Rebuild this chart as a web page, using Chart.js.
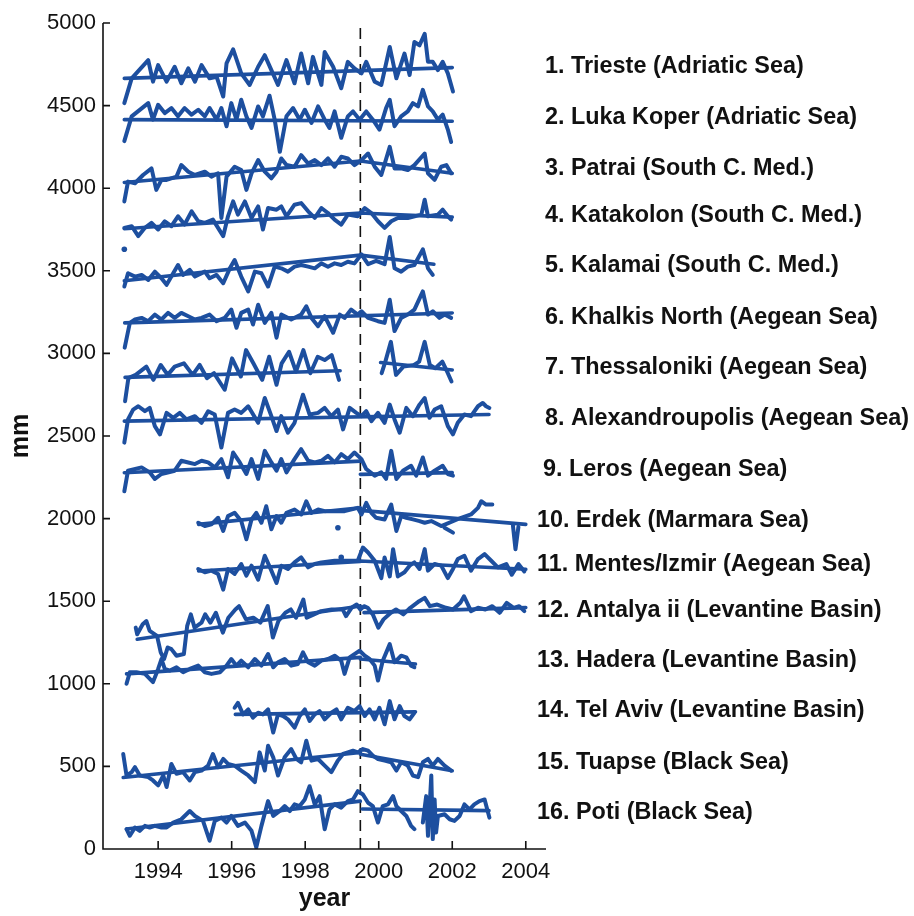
<!DOCTYPE html>
<html>
<head>
<meta charset="utf-8">
<script src="https://cdn.jsdelivr.net/npm/chart.js@4.4.1/dist/chart.umd.min.js"></script>
<style>
  html, body { margin: 0; padding: 0; background: #fff; }
  #wrap { width: 914px; height: 916px; }
</style>
</head>
<body>
<div id="wrap"><canvas id="seaLevel" width="914" height="916"></canvas></div>
<script>
// Monthly mean sea level per station, stacked with offsets (mm). Pairs are [year, mm],
// a null value breaks the line.
const trieste = [[1993.08,4515],[1993.28,4665],[1993.73,4775],[1993.86,4645],[1994.00,4745],[1994.23,4645],[1994.45,4735],[1994.63,4635],[1994.82,4725],[1995.00,4645],[1995.18,4745],[1995.40,4665],[1995.59,4675],[1995.77,4555],[1995.86,4755],[1996.04,4840],[1996.26,4695],[1996.49,4625],[1996.72,4735],[1996.90,4805],[1997.08,4715],[1997.26,4625],[1997.49,4775],[1997.71,4635],[1997.89,4815],[1998.08,4635],[1998.21,4795],[1998.44,4625],[1998.53,4825],[1998.76,4735],[1998.98,4605],[1999.16,4765],[1999.34,4725],[1999.53,4695],[1999.66,4765],[1999.89,4645],[2000.07,4625],[2000.30,4855],[2000.48,4665],[2000.70,4815],[2000.84,4685],[2000.97,4885],[2001.11,4865],[2001.25,4935],[2001.34,4765],[2001.47,4765],[2001.61,4715],[2001.74,4765],[2001.88,4695],[2002.02,4585]];
const lukaKoper = [[1993.08,4285],[1993.28,4435],[1993.73,4515],[1993.86,4415],[1994.00,4505],[1994.18,4455],[1994.36,4485],[1994.54,4435],[1994.72,4485],[1994.91,4445],[1995.09,4475],[1995.27,4435],[1995.40,4485],[1995.59,4415],[1995.72,4485],[1995.86,4375],[1995.99,4515],[1996.13,4415],[1996.26,4535],[1996.40,4435],[1996.54,4365],[1996.72,4495],[1996.85,4435],[1997.03,4560],[1997.17,4415],[1997.31,4220],[1997.49,4435],[1997.67,4485],[1997.85,4415],[1997.99,4475],[1998.17,4395],[1998.35,4495],[1998.53,4415],[1998.66,4365],[1998.80,4465],[1998.98,4305],[1999.16,4435],[1999.30,4465],[1999.48,4415],[1999.66,4465],[1999.84,4415],[2000.02,4355],[2000.20,4485],[2000.30,4535],[2000.43,4375],[2000.61,4435],[2000.79,4465],[2000.93,4515],[2001.07,4495],[2001.20,4595],[2001.34,4495],[2001.47,4465],[2001.61,4415],[2001.74,4445],[2001.88,4355],[2001.97,4280]];
const patrai = [[1993.08,3920],[1993.18,4040],[1993.37,4030],[1993.59,4080],[1993.82,4120],[1993.95,3990],[1994.09,4050],[1994.23,4050],[1994.50,4070],[1994.63,4140],[1994.82,4100],[1995.00,4080],[1995.27,4100],[1995.45,4070],[1995.63,4090],[1995.72,3820],[1995.86,4070],[1996.08,4130],[1996.26,4110],[1996.40,3990],[1996.54,4090],[1996.72,4170],[1996.90,4100],[1997.08,4060],[1997.22,4100],[1997.35,4180],[1997.49,4140],[1997.71,4130],[1997.89,4200],[1998.08,4150],[1998.26,4170],[1998.44,4140],[1998.62,4180],[1998.80,4130],[1998.98,4190],[1999.16,4180],[1999.34,4140],[1999.53,4170],[1999.71,4210],[1999.89,4130],[2000.07,4080],[2000.30,4250],[2000.43,4120],[2000.61,4120],[2000.79,4110],[2000.97,4140],[2001.25,4210],[2001.34,4090],[2001.52,4050],[2001.70,4130],[2001.84,4140],[2001.97,4090]];
const katakolon = [[1993.08,3760],[1993.28,3770],[1993.46,3710],[1993.64,3760],[1993.82,3790],[1994.00,3750],[1994.18,3800],[1994.36,3770],[1994.54,3830],[1994.72,3780],[1994.91,3860],[1995.09,3800],[1995.27,3790],[1995.49,3810],[1995.77,3710],[1995.90,3830],[1996.04,3920],[1996.17,3840],[1996.36,3920],[1996.54,3820],[1996.72,3890],[1996.85,3750],[1996.99,3880],[1997.22,3870],[1997.35,3890],[1997.49,3830],[1997.71,3900],[1997.89,3910],[1998.08,3860],[1998.26,3820],[1998.44,3880],[1998.62,3850],[1998.80,3810],[1998.98,3780],[1999.16,3840],[1999.43,3830],[1999.62,3880],[1999.80,3850],[1999.98,3800],[2000.16,3760],[2000.34,3800],[2000.52,3820],[2000.79,3820],[2001.16,3840],[2001.25,3930],[2001.34,3830],[2001.61,3840],[2001.74,3870],[2001.88,3830],[2001.97,3810]];
const kalamai = [[1993.08,3405],[1993.18,3485],[1993.37,3465],[1993.55,3475],[1993.73,3445],[1993.91,3495],[1994.09,3455],[1994.23,3415],[1994.41,3485],[1994.54,3535],[1994.68,3475],[1994.86,3505],[1995.00,3465],[1995.27,3495],[1995.40,3455],[1995.59,3475],[1995.77,3425],[1995.95,3515],[1996.08,3565],[1996.26,3465],[1996.45,3375],[1996.63,3495],[1996.81,3485],[1996.99,3405],[1997.17,3525],[1997.35,3515],[1997.53,3495],[1997.71,3525],[1997.89,3535],[1998.08,3525],[1998.26,3515],[1998.44,3545],[1998.62,3525],[1998.80,3545],[1998.98,3535],[1999.16,3555],[1999.34,3545],[1999.53,3600],[1999.71,3540],[1999.93,3560],[2000.16,3540],[2000.30,3705],[2000.43,3515],[2000.61,3495],[2000.79,3525],[2000.97,3535],[2001.20,3630],[2001.34,3515],[2001.47,3475]];
const khalkis = [[1993.09,3035],[1993.23,3185],[1993.37,3205],[1993.55,3215],[1993.73,3195],[1993.91,3235],[1994.09,3205],[1994.27,3245],[1994.45,3215],[1994.63,3245],[1994.82,3225],[1995.00,3205],[1995.18,3215],[1995.40,3235],[1995.59,3195],[1995.81,3215],[1995.99,3265],[1996.13,3155],[1996.26,3245],[1996.45,3265],[1996.58,3175],[1996.72,3295],[1996.90,3185],[1997.08,3245],[1997.22,3095],[1997.35,3235],[1997.62,3205],[1997.89,3235],[1998.03,3285],[1998.17,3215],[1998.35,3165],[1998.53,3225],[1998.76,3125],[1998.94,3235],[1999.07,3215],[1999.25,3265],[1999.43,3235],[1999.53,3255],[1999.71,3215],[1999.98,3195],[2000.16,3185],[2000.30,3325],[2000.43,3135],[2000.61,3215],[2000.79,3235],[2000.97,3265],[2001.20,3375],[2001.34,3235],[2001.47,3255],[2001.65,3215],[2001.79,3235],[2001.97,3215]];
const thessaloniki = [[1993.10,2710],[1993.19,2850],[1993.39,2870],[1993.68,2920],[1993.87,2840],[1994.07,2930],[1994.26,2870],[1994.45,2920],[1994.70,2940],[1994.94,2870],[1995.13,2930],[1995.33,2850],[1995.52,2880],[1995.81,2780],[1996.01,2970],[1996.25,2860],[1996.39,3020],[1996.59,2940],[1996.83,2840],[1997.02,2980],[1997.22,2810],[1997.36,2940],[1997.56,3010],[1997.75,2890],[1997.95,3020],[1998.14,2880],[1998.34,2980],[1998.53,2960],[1998.72,2990],[1998.92,2840],[1999.50,null],[2000.08,2880],[2000.18,2950],[2000.33,3070],[2000.47,2870],[2000.67,2920],[2000.96,2930],[2001.10,2950],[2001.25,3070],[2001.39,2930],[2001.54,2910],[2001.73,2950],[2001.88,2880],[2001.98,2830]];
const alexandroupolis = [[1993.08,2460],[1993.18,2600],[1993.32,2660],[1993.46,2680],[1993.64,2650],[1993.77,2670],[1993.91,2560],[1994.05,2510],[1994.23,2640],[1994.41,2610],[1994.59,2640],[1994.77,2600],[1995.00,2620],[1995.18,2580],[1995.36,2650],[1995.54,2630],[1995.72,2430],[1995.90,2640],[1996.08,2660],[1996.26,2640],[1996.45,2680],[1996.72,2580],[1996.90,2730],[1997.08,2620],[1997.22,2530],[1997.35,2620],[1997.53,2520],[1997.71,2580],[1997.94,2750],[1998.12,2630],[1998.35,2640],[1998.53,2670],[1998.71,2620],[1998.89,2660],[1999.03,2540],[1999.21,2670],[1999.39,2640],[1999.53,2620],[1999.66,2650],[1999.80,2590],[1999.98,2640],[2000.16,2580],[2000.30,2690],[2000.43,2600],[2000.57,2520],[2000.75,2670],[2000.93,2620],[2001.11,2690],[2001.25,2730],[2001.38,2610],[2001.52,2660],[2001.70,2680],[2001.88,2560],[2002.02,2510],[2002.15,2580],[2002.33,2630],[2002.51,2620],[2002.70,2680],[2002.83,2700],[2002.92,2680],[2003.01,2670]];
const leros = [[1993.08,2165],[1993.18,2290],[1993.55,2310],[1993.77,2280],[1993.91,2240],[1994.09,2270],[1994.45,2290],[1994.63,2350],[1994.82,2340],[1995.00,2330],[1995.18,2350],[1995.36,2340],[1995.54,2310],[1995.72,2360],[1995.90,2250],[1996.04,2400],[1996.22,2340],[1996.40,2270],[1996.54,2360],[1996.72,2240],[1996.90,2410],[1997.08,2340],[1997.22,2290],[1997.35,2360],[1997.49,2280],[1997.71,2360],[1997.89,2420],[1998.08,2350],[1998.26,2340],[1998.44,2350],[1998.62,2380],[1998.80,2340],[1998.98,2390],[1999.16,2360],[1999.34,2400],[1999.53,2360],[1999.66,2300],[1999.89,2260],[2000.07,2280],[2000.20,2240],[2000.34,2410],[2000.48,2240],[2000.66,2290],[2000.88,2320],[2001.02,2260],[2001.20,2370],[2001.34,2260],[2001.52,2290],[2001.74,2320],[2001.88,2270],[2002.02,2260]];
const erdek = [[1995.09,1975],[1995.27,1955],[1995.45,1965],[1995.63,2005],[1995.77,1925],[1995.90,2015],[1996.08,2035],[1996.26,1985],[1996.40,1875],[1996.54,1995],[1996.67,2035],[1996.81,1975],[1996.94,2075],[1997.08,1935],[1997.22,2015],[1997.35,1975],[1997.49,2035],[1997.71,2055],[1997.89,2025],[1998.03,2105],[1998.17,2035],[1998.35,2055],[1998.53,2045],[1999.07,2045],[1999.43,2065],[1999.53,2025],[1999.66,2095],[1999.80,2035],[1999.93,2005],[2000.16,1995],[2000.34,2085],[2000.48,1925],[2000.61,2015],[2000.75,2005],[2000.93,1995],[2001.11,1985],[2001.25,1975],[2001.43,1985],[2001.70,1955],[2002.24,2005],[2002.51,2025],[2002.70,2065],[2002.79,2105],[2002.92,2085],[2003.09,2085],[2003.40,null],[2003.65,1960],[2003.72,1815],[2003.80,1950],[2003.90,null],[2001.79,1945],[2002.02,1915]];
const mentes = [[1995.09,1695],[1995.27,1675],[1995.45,1685],[1995.63,1665],[1995.77,1570],[1995.90,1695],[1996.08,1665],[1996.26,1725],[1996.40,1655],[1996.54,1715],[1996.72,1630],[1996.90,1775],[1997.08,1685],[1997.22,1610],[1997.35,1715],[1997.53,1695],[1997.71,1735],[1997.89,1765],[1998.08,1705],[1998.26,1725],[1998.44,1735],[1998.80,1745],[1999.43,1745],[1999.57,1825],[1999.71,1795],[1999.89,1745],[2000.07,1640],[2000.16,1765],[2000.30,1650],[2000.39,1815],[2000.52,1650],[2000.70,1675],[2000.84,1715],[2000.97,1735],[2001.11,1695],[2001.25,1815],[2001.34,1685],[2001.52,1725],[2001.70,1715],[2001.88,1640],[2002.02,1695],[2002.15,1755],[2002.33,1775],[2002.51,1685],[2002.70,1755],[2002.88,1785],[2003.06,1745],[2003.24,1705],[2003.47,1725],[2003.62,1660],[2003.80,1725],[2003.96,1680]];
const antalya = [[1993.39,1340],[1993.43,1300],[1993.58,1360],[1993.68,1380],[1993.77,1320],[1993.97,1290],[1994.07,1190],[1994.16,1150],[1994.26,1220],[1994.36,1210],[1994.50,1170],[1994.70,1180],[1994.79,1350],[1994.89,1420],[1994.99,1340],[1995.18,1370],[1995.28,1420],[1995.42,1370],[1995.57,1430],[1995.76,1310],[1995.91,1400],[1996.10,1450],[1996.20,1470],[1996.39,1390],[1996.59,1400],[1996.78,1370],[1996.98,1470],[1997.12,1280],[1997.27,1380],[1997.46,1430],[1997.61,1450],[1997.75,1400],[1997.95,1510],[1998.04,1400],[1998.24,1420],[1998.43,1440],[1998.72,1450],[1999.02,1450],[1999.11,1410],[1999.26,1460],[1999.40,1480],[1999.50,1450],[1999.60,1470],[1999.70,1460],[1999.84,1420],[1999.99,1340],[2000.13,1390],[2000.33,1430],[2000.47,1450],[2000.67,1420],[2000.86,1460],[2001.10,1500],[2001.25,1520],[2001.39,1470],[2001.59,1480],[2001.83,1460],[2002.02,1450],[2002.22,1490],[2002.32,1530],[2002.51,1440],[2002.70,1460],[2002.90,1450],[2003.09,1470],[2003.29,1430],[2003.48,1490],[2003.67,1460],[2003.82,1470],[2003.96,1440]];
const hadera = [[1993.14,1000],[1993.23,1070],[1993.41,1070],[1993.64,1060],[1993.86,1010],[1994.00,1090],[1994.09,1150],[1994.18,1090],[1994.32,1080],[1994.50,1100],[1994.68,1070],[1994.86,1090],[1995.09,1110],[1995.27,1070],[1995.45,1060],[1995.68,1070],[1995.86,1110],[1995.99,1150],[1996.13,1110],[1996.26,1140],[1996.45,1100],[1996.63,1150],[1996.81,1110],[1996.99,1180],[1997.13,1100],[1997.26,1130],[1997.44,1150],[1997.62,1110],[1997.80,1120],[1997.94,1190],[1998.08,1130],[1998.26,1110],[1998.44,1140],[1998.62,1150],[1998.80,1170],[1998.98,1140],[1999.07,1060],[1999.21,1160],[1999.34,1180],[1999.48,1200],[1999.62,1170],[1999.75,1150],[1999.89,1110],[1999.98,1020],[2000.11,1140],[2000.30,1240],[2000.43,1130],[2000.61,1170],[2000.75,1160],[2000.88,1110],[2000.97,1100]];
const telAviv = [[1996.08,855],[1996.17,885],[1996.31,815],[1996.45,845],[1996.58,795],[1996.72,825],[1996.85,815],[1996.99,845],[1997.13,705],[1997.26,815],[1997.40,805],[1997.53,785],[1997.71,735],[1997.85,805],[1997.99,845],[1998.12,775],[1998.26,815],[1998.39,835],[1998.53,785],[1998.71,825],[1998.85,845],[1998.98,785],[1999.16,855],[1999.34,835],[1999.48,865],[1999.62,805],[1999.75,845],[1999.89,785],[2000.02,855],[2000.16,755],[2000.30,895],[2000.43,785],[2000.57,865],[2000.70,805],[2000.84,785],[2000.97,825]];
const tuapse = [[1993.05,575],[1993.14,445],[1993.28,465],[1993.37,495],[1993.50,445],[1993.73,435],[1993.86,415],[1994.00,385],[1994.14,445],[1994.23,375],[1994.36,515],[1994.50,455],[1994.68,465],[1994.86,415],[1995.00,465],[1995.18,475],[1995.36,505],[1995.49,575],[1995.63,495],[1995.77,545],[1995.90,515],[1996.08,505],[1996.26,475],[1996.45,445],[1996.63,405],[1996.76,585],[1996.90,475],[1996.99,625],[1997.13,555],[1997.26,445],[1997.44,555],[1997.62,605],[1997.76,545],[1997.89,525],[1998.03,655],[1998.17,535],[1998.35,545],[1998.53,505],[1998.71,465],[1998.89,535],[1999.03,575],[1999.16,585],[1999.30,595],[1999.43,585],[1999.57,605],[1999.71,595],[1999.84,565],[1999.98,545],[2000.16,535],[2000.34,525],[2000.48,475],[2000.61,525],[2000.79,505],[2000.93,445],[2001.07,435],[2001.20,525],[2001.34,545],[2001.47,505],[2001.61,545],[2001.79,505],[2001.97,475]];
const poti = [[1993.14,120],[1993.23,80],[1993.37,130],[1993.50,110],[1993.64,140],[1993.77,130],[1993.91,140],[1994.09,130],[1994.23,130],[1994.41,160],[1994.63,180],[1994.86,230],[1995.00,200],[1995.22,170],[1995.40,50],[1995.54,170],[1995.72,190],[1995.86,160],[1995.99,200],[1996.17,140],[1996.36,160],[1996.54,110],[1996.67,10],[1996.81,140],[1996.99,290],[1997.13,200],[1997.31,230],[1997.44,260],[1997.58,230],[1997.71,270],[1997.85,260],[1997.99,300],[1998.12,380],[1998.26,270],[1998.39,320],[1998.53,120],[1998.66,240],[1998.80,270],[1998.98,250],[1999.16,290],[1999.30,300],[1999.43,350],[1999.57,330],[1999.71,280],[1999.84,260],[1999.98,160],[2000.11,260],[2000.25,270],[2000.39,320],[2000.48,260],[2000.61,230],[2000.75,200],[2000.88,140],[2000.97,120],[2001.08,null],[2001.20,160],[2001.29,320],[2001.34,80],[2001.43,445],[2001.47,60],[2001.52,300],[2001.56,100],[2001.61,200],[2001.79,210],[2001.93,180],[2002.06,170],[2002.20,200],[2002.33,270],[2002.47,240],[2002.60,270],[2002.74,290],[2002.88,300],[2003.01,190]];

// linear trends fitted before / after mid-1999
const triesteTrend = [[1993.08,4665],[2002.0,4730]];
const lukaKoperTrend = [[1993.08,4415],[2002.0,4405]];
const patraiTrend = [[1993.08,4035],[1999.5,4165],[2002.0,4090]];
const katakolonTrend = [[1993.08,3755],[1999.5,3850],[2002.0,3825]];
const kalamaiTrend = [[1993.08,3440],[1999.5,3595],[2001.5,3540]];
const khalkisTrend = [[1993.09,3185],[2002.0,3245]];
const thessalonikiTrend = [[1993.1,2855],[1998.95,2895],[1999.5,null],[2000.05,2945],[2002.0,2900]];
const alexandroupolisTrend = [[1993.08,2590],[2003.0,2630]];
const lerosTrend = [[1993.08,2278],[1999.5,2348],[1999.5,null],[1999.5,2268],[2002.0,2278]];
const erdekTrend = [[1995.1,1965],[1999.5,2066],[1999.5,null],[1999.5,2050],[2004.0,1965]];
const mentesTrend = [[1995.1,1683],[1999.5,1740],[1999.5,null],[1999.5,1743],[2004.0,1693]];
const antalyaTrend = [[1993.43,1270],[1999.5,1471],[1999.55,null],[1999.6,1431],[2004.0,1461]];
const haderaTrend = [[1993.14,1060],[1999.5,1160],[1999.5,null],[1999.5,1150],[2001.0,1120]];
const telAvivTrend = [[1996.1,815],[2001.0,830]];
const tuapseTrend = [[1993.05,433],[1999.5,584],[1999.5,null],[1999.5,574],[2002.0,474]];
const potiTrend = [[1993.14,121],[1999.5,290],[1999.52,null],[1999.55,242],[2003.0,232]];

// isolated monthly values away from the main records
const strayValues = [[1993.08,3630],[1998.89,1945],[1998.98,1765]];

const stationNames = [
  '1. Trieste (Adriatic Sea)', '2. Luka Koper (Adriatic Sea)', '3. Patrai (South C. Med.)',
  '4. Katakolon (South C. Med.)', '5. Kalamai (South C. Med.)', '6. Khalkis North (Aegean Sea)',
  '7. Thessaloniki (Aegean Sea)', '8. Alexandroupolis (Aegean Sea)', '9. Leros (Aegean Sea)',
  '10. Erdek (Marmara Sea)', '11. Mentes/Izmir (Aegean Sea)', '12. Antalya ii (Levantine Basin)',
  '13. Hadera (Levantine Basin)', '14. Tel Aviv (Levantine Basin)', '15. Tuapse (Black Sea)',
  '16. Poti (Black Sea)'
];
const records = [trieste, lukaKoper, patrai, katakolon, kalamai, khalkis, thessaloniki, alexandroupolis,
  leros, erdek, mentes, antalya, hadera, telAviv, tuapse, poti];
const trends = [triesteTrend, lukaKoperTrend, patraiTrend, katakolonTrend, kalamaiTrend, khalkisTrend,
  thessalonikiTrend, alexandroupolisTrend, lerosTrend, erdekTrend, mentesTrend, antalyaTrend,
  haderaTrend, telAvivTrend, tuapseTrend, potiTrend];

const yearTicks = [1994, 1996, 1998, 2000, 2002, 2004];
const mmTicks = [0, 500, 1000, 1500, 2000, 2500, 3000, 3500, 4000, 4500, 5000];
const breakYear = 1999.5;

const BLUE = '#1d4f9f';
const FONT = '"Liberation Sans", Arial, Helvetica, sans-serif';
const pts = pairs => pairs.map(([x, y]) => ({ x, y }));

const lineStyle = {
  borderColor: BLUE, borderWidth: 4, pointRadius: 0, tension: 0,
  borderJoinStyle: 'round', borderCapStyle: 'round', fill: false, spanGaps: false
};

const datasets = [];
records.forEach((r, i) => {
  datasets.push({ label: stationNames[i], data: pts(r), ...lineStyle });
  datasets.push({ label: stationNames[i] + ' trend', data: pts(trends[i]), ...lineStyle, borderWidth: 3.6 });
});
datasets.push({
  label: 'stray', data: pts(strayValues), showLine: false,
  pointRadius: 2.8, pointBackgroundColor: BLUE, pointBorderWidth: 0
});
datasets.push({
  label: 'mid-1999', data: pts([[breakYear, 0], [breakYear, 5000]]),
  borderColor: '#111', borderWidth: 1.6, borderDash: [11, 7], pointRadius: 0, order: 10
});

// axes, inward ticks, titles and the station list
const frame = {
  id: 'frame',
  afterDraw(chart) {
    const { ctx, chartArea: a, scales: { x, y } } = chart;
    ctx.save();
    ctx.strokeStyle = '#111';
    ctx.lineWidth = 1.6;
    ctx.beginPath();
    ctx.moveTo(a.left, y.getPixelForValue(5000));
    ctx.lineTo(a.left, a.bottom);
    ctx.lineTo(a.right, a.bottom);
    mmTicks.forEach(v => {
      const py = y.getPixelForValue(v);
      ctx.moveTo(a.left, py);
      ctx.lineTo(a.left + 7, py);
    });
    yearTicks.forEach(v => {
      const px = x.getPixelForValue(v);
      ctx.moveTo(px, a.bottom);
      ctx.lineTo(px, a.bottom - 8);
    });
    ctx.stroke();

    ctx.fillStyle = '#111';
    ctx.font = 'bold 25px ' + FONT;
    ctx.textAlign = 'center';
    ctx.textBaseline = 'middle';
    ctx.fillText('year', (a.left + a.right) / 2, 899);
    ctx.save();
    ctx.translate(21, (a.top + a.bottom) / 2);
    ctx.rotate(-Math.PI / 2);
    ctx.fillText('mm', 0, 0);
    ctx.restore();

    const rowY = [67, 118, 169, 216, 266, 318, 368, 419, 470, 521, 565, 611, 661, 711, 763, 813];
    ctx.font = 'bold 23.4px ' + FONT;
    ctx.textAlign = 'left';
    stationNames.forEach((s, i) => {
      ctx.fillText(s, i < 8 ? 545 : (i === 8 ? 543 : 537), rowY[i]);
    });
    ctx.restore();
  }
};

new Chart(document.getElementById('seaLevel'), {
  type: 'line',
  data: { datasets },
  plugins: [frame],
  options: {
    responsive: false,
    animation: false,
    events: [],
    layout: { padding: { left: 0, top: 23, right: 368, bottom: 0 } },
    plugins: { legend: { display: false }, tooltip: { enabled: false } },
    scales: {
      x: {
        type: 'linear', min: 1992.5, max: 2004.55,
        afterFit: s => { s.height = 67; },
        afterBuildTicks: s => { s.ticks = yearTicks.map(v => ({ value: v })); },
        grid: { display: false, drawTicks: false },
        border: { display: false },
        ticks: { color: '#111', font: { family: FONT, size: 22 }, padding: 10, maxRotation: 0, callback: v => String(v) }
      },
      y: {
        type: 'linear', min: 0, max: 5000,
        afterFit: s => { s.width = 103; },
        afterBuildTicks: s => { s.ticks = mmTicks.map(v => ({ value: v })); },
        grid: { display: false, drawTicks: false },
        border: { display: false },
        ticks: { color: '#111', font: { family: FONT, size: 22 }, padding: 7, callback: v => String(v) }
      }
    }
  }
});
</script>
</body>
</html>
